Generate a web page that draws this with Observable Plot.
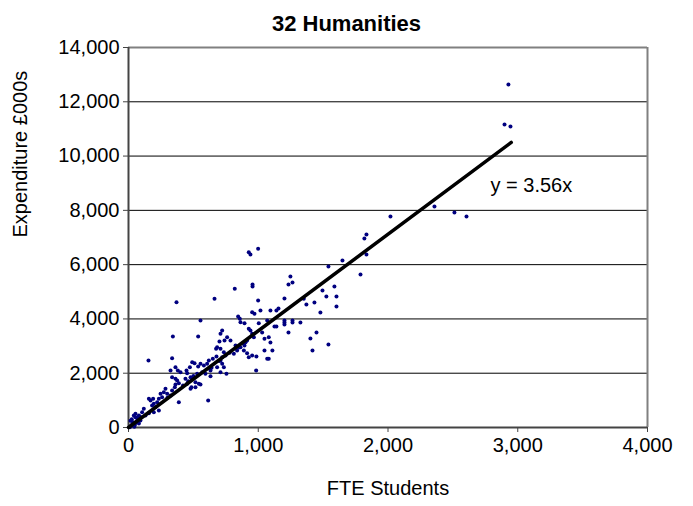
<!DOCTYPE html>
<html>
<head>
<meta charset="utf-8">
<script src="https://cdn.jsdelivr.net/npm/d3@7"></script>
<script src="https://cdn.jsdelivr.net/npm/@observablehq/plot@0.6"></script>
<style>
  html, body { margin: 0; padding: 0; background: #fff; }
  #chart { width: 693px; height: 506px; }
  svg { font-family: "Liberation Sans", Arial, sans-serif; }
</style>
</head>
<body>
<div id="chart"></div>
<script>
const title = "32 Humanities";
const xLabel = "FTE Students";
const yLabel = "Expenditure £000s";
const xTicks = [0, 1000, 2000, 3000, 4000];
const yTicks = [0, 2000, 4000, 6000, 8000, 10000, 12000, 14000];
const slope = 3.56;
const trendEndX = 2950;
const equationLabel = "y = 3.56x";

const fteStudents = [
  2928, 2898, 2944, 2358, 2512, 2605, 2019, 1834, 1818, 1834,
  1649, 1541, 1788, 1248, 1233, 1264, 1202, 1587, 1495, 1525,
  1603, 1603, 1371, 1433, 1479, 1351, 1094, 1140, 1156, 1202,
  1202, 1202, 1264, 1264, 1325, 1125, 1140, 1233, 1449, 1402,
  1418, 1541, 1094, 1109,
  819, 927, 940, 999, 956, 956, 999, 1017, 953, 971,
  845, 858, 863, 894, 1004, 1069, 1081, 1048, 1048, 1069,
  1081, 986, 984, 953, 927, 914, 889, 894, 902, 914,
  940, 927, 953, 966, 863, 825, 837, 812, 786, 760,
  740, 722, 709, 701, 683, 675, 709, 735, 748, 722,
  709, 722, 735, 755, 709, 683, 678, 650, 619, 606,
  581, 555, 537, 509, 491, 473, 447, 452, 478, 491,
  516, 542, 555, 516, 485, 478, 452, 439, 401, 380,
  362, 324, 336, 362, 375, 388, 362, 357, 336, 324,
  298, 285, 272, 247, 259, 234, 221, 195, 182, 170,
  157, 190, 208, 234, 195, 157, 131, 105, 80, 54,
  41, 54, 80, 92, 67, 36, 41, 10, 118, 388,
  632, 529, 568, 593, 632, 370, 663, 555, 342, 537,
  154, 336, 614,
  20, 30, 50, 70, 25, 60, 90, 15, 45, 80,
  300, 420, 460, 500, 640, 700, 780, 850, 880, 1030
];
const expenditure = [
  12636, 11163, 11089, 8142, 7921, 7773, 7773, 7110, 6963, 6373,
  6152, 5931, 5636, 5562, 5268, 5341, 4752, 5194, 5047, 4826,
  4826, 4457, 4531, 4605, 4236, 4740, 4310, 4310, 4384, 3941,
  3868, 3794, 3941, 3868, 3868, 3720, 3720, 3499, 3499, 3278,
  2836, 3057, 3131, 2836,
  5108, 6459, 6373, 6582, 5268, 5194, 4678, 4310, 4248, 4187,
  4089, 4003, 3880, 3843, 3843, 3941, 3327, 3266, 2836, 2529,
  2529, 2615, 2099, 2652, 2591, 2738, 2836, 3020, 3143, 3205,
  3573, 3634, 3450, 3327, 2959, 3020, 2836, 2713, 3205, 3327,
  3205, 3573, 3450, 3168, 2959, 2898, 2898, 2775, 2652, 2591,
  2468, 2345, 2222, 1977, 2038, 2222, 2615, 2529, 2468, 2345,
  2284, 2345, 2247, 2370, 2407, 2222, 2099, 2001, 1854, 1792,
  1670, 1608, 1584, 1486, 1486, 1424, 1608, 1792, 2038, 2099,
  2222, 2099, 1854, 1792, 1731, 1633, 1584, 1486, 1363, 1179,
  1240, 1424, 1301, 1240, 1117, 1056, 933, 871, 810, 994,
  1056, 1056, 749, 626, 564, 528, 441, 564, 441, 380,
  441, 503, 319, 257, 257, 196, 73, 12, 687, 933,
  1891, 1977, 2038, 1977, 2099, 4617, 4739, 3942, 3352, 3352,
  2468, 2554, 994,
  60, 150, 100, 350, 300, 200, 400, 250, 30, 150,
  1100, 1550, 1700, 1900, 2200, 2450, 2750, 2950, 3100, 3500
];

const points = fteStudents.map((x, i) => ({x, y: expenditure[i]}));
const trend = [{x: 0, y: 0}, {x: trendEndX, y: slope * trendEndX}];

const W = 693, H = 506;
const FS = 20;
const plot = Plot.plot({
  width: W,
  height: H,
  marginLeft: 128,
  marginRight: 46,
  marginTop: 47,
  marginBottom: 79,
  style: {fontFamily: "'Liberation Sans', Arial, sans-serif", fontSize: FS + "px", color: "#000", background: "#fff"},
  x: {domain: [0, 4000], ticks: xTicks, tickFormat: d3.format(","), label: null},
  y: {domain: [0, 14000], ticks: yTicks, tickFormat: d3.format(","), label: null},
  marks: [
    Plot.ruleY(yTicks.slice(1, -1), {stroke: "#000", strokeWidth: 1}),
    Plot.ruleY([14000], {stroke: "#808080", strokeWidth: 2}),
    Plot.ruleX([4000], {stroke: "#808080", strokeWidth: 2}),
    Plot.ruleX([0], {stroke: "#444", strokeWidth: 2}),
    Plot.ruleY([0], {stroke: "#444", strokeWidth: 2}),
    Plot.axisX({ticks: xTicks, tickFormat: d3.format(","), tickSize: 5, tickPadding: 5, fontSize: FS, stroke: "#444", label: null}),
    Plot.axisY({ticks: yTicks, tickFormat: d3.format(","), tickSize: 5, tickPadding: 4, fontSize: FS, stroke: "#444", label: null}),
    Plot.dot(points, {x: "x", y: "y", r: 2, fill: "#000080", stroke: null}),
    Plot.line(trend, {x: "x", y: "y", stroke: "#000", strokeWidth: 3.5}),
    Plot.text([equationLabel], {x: 2790, y: 8915, text: d => d, textAnchor: "start", fontSize: FS, fill: "#000"}),
    Plot.text([xLabel], {frameAnchor: "bottom", dy: 67, text: d => d, fontSize: FS, fill: "#000"}),
    Plot.text([yLabel], {frameAnchor: "left", dx: -108, rotate: -90, text: d => d, fontSize: FS, fill: "#000"})
  ]
});
const svg = d3.select(plot);
svg.append("text")
  .attr("x", W / 2)
  .attr("y", 31)
  .attr("text-anchor", "middle")
  .attr("font-size", 22)
  .attr("font-weight", "bold")
  .attr("fill", "#000")
  .text(title);
document.getElementById("chart").appendChild(plot);
</script>
</body>
</html>
